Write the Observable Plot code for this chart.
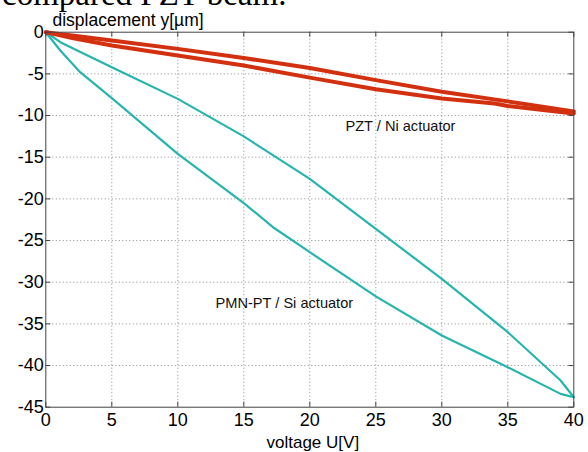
<!DOCTYPE html>
<html><head><meta charset="utf-8">
<script src="https://cdn.jsdelivr.net/npm/d3@7"></script>
<script src="https://cdn.jsdelivr.net/npm/@observablehq/plot@0.6"></script>
<style>
html,body{margin:0;padding:0;background:#fff;}
#chart{position:relative;width:588px;height:452px;overflow:hidden;}
</style>
</head><body><div id="chart"></div>
<script>
// ---- data ----
const xTicks = [0, 5, 10, 15, 20, 25, 30, 35, 40];
const yTicks = [0, -5, -10, -15, -20, -25, -30, -35, -40, -45];

// PZT / Ni actuator: two branches of the hysteresis loop
const pztUpperV = [0, 1, 2, 5, 10, 15, 20, 25, 30, 35, 40];
const pztUpperD = [0, -0.2, -0.4, -1.0, -2.0, -3.1, -4.3, -5.75, -7.15, -8.3, -9.5];
const pztLowerV = [0, 1, 2, 5, 10, 15, 20, 25, 30, 34, 35, 40];
const pztLowerD = [0, -0.35, -0.7, -1.6, -2.8, -4.0, -5.45, -6.85, -7.95, -8.55, -8.85, -9.75];

// PMN-PT / Si actuator: two branches of the hysteresis loop
const pmnUpperV = [0, 1.1, 5, 10, 15, 20, 25, 30, 35, 39, 40];
const pmnUpperD = [0, -1.2, -4.2, -8.0, -12.5, -17.6, -23.6, -29.6, -36.0, -41.8, -43.8];
const pmnLowerV = [0, 1.1, 2.6, 5, 10, 15, 17.3, 20, 25, 30, 35, 39, 40];
const pmnLowerD = [0, -2.2, -4.8, -7.9, -14.6, -20.5, -23.5, -26.4, -31.7, -36.4, -40.2, -43.4, -43.8];

const labelNames = ["PZT / Ni actuator", "PMN-PT / Si actuator"];
const labelV = [22.7, 12.86];
const labelD = [-11.24, -32.5];

const titleText = "compared PZT beam.";
const xLabel = "voltage U[V]";
const yLabel = "displacement y[\u00b5m]";

// ---- build tables ----
const toRows = (vs, ds) => vs.map((v, i) => ({v, d: ds[i]}));
const pztUpper = toRows(pztUpperV, pztUpperD);
const pztLower = toRows(pztLowerV, pztLowerD);
const pmnUpper = toRows(pmnUpperV, pmnUpperD);
const pmnLower = toRows(pmnLowerV, pmnLowerD);
const labels = labelNames.map((t, i) => ({t, v: labelV[i], d: labelD[i]}));

const W = 588, H = 452;
const mL = 45.3, mR = 14.7, mT = 31.7, mB = 45.3;
const frameW = W - mL - mR, frameH = H - mT - mB;
const tickLen = 5;
const red = "#d2300e", cyan = "#26b4ae";
const axisColor = "#444";
const gridStyle = {stroke: "#8a8a8a", strokeOpacity: 1, strokeWidth: 1, strokeDasharray: "1,2.5"};

const chart = Plot.plot({
  width: W, height: H,
  marginLeft: mL, marginRight: mR, marginTop: mT, marginBottom: mB,
  style: {fontFamily: "'Liberation Sans', Arial, sans-serif", fontSize: "18px", color: "#000", background: "#fff"},
  x: {domain: [0, 40]},
  y: {domain: [-45, 0]},
  marks: [
    Plot.ruleX(xTicks.slice(1, -1), {x: d => d, ...gridStyle}),
    Plot.ruleY(yTicks.slice(1, -1), {y: d => d, ...gridStyle}),
    Plot.line(pmnUpper, {x: "v", y: "d", stroke: cyan, strokeWidth: 2.2}),
    Plot.line(pmnLower, {x: "v", y: "d", stroke: cyan, strokeWidth: 2.2}),
    Plot.line(pztUpper, {x: "v", y: "d", stroke: red, strokeWidth: 4}),
    Plot.line(pztLower, {x: "v", y: "d", stroke: red, strokeWidth: 4}),
    Plot.text(labels, {x: "v", y: "d", text: "t", textAnchor: "start", lineAnchor: "middle", fontSize: 14.6, fill: "#111"}),
    Plot.tickX(xTicks, {x: d => d, insetTop: frameH - tickLen, stroke: axisColor}),
    Plot.tickX(xTicks, {x: d => d, insetBottom: frameH - tickLen, stroke: axisColor}),
    Plot.tickY(yTicks, {y: d => d, insetRight: frameW - tickLen, stroke: axisColor}),
    Plot.tickY(yTicks, {y: d => d, insetLeft: frameW - tickLen, stroke: axisColor}),
    Plot.frame({stroke: axisColor, strokeWidth: 1}),
    Plot.axisX({ticks: xTicks, tickSize: 0, tickPadding: 6, tickFormat: d => String(d), label: null, fontSize: 18}),
    Plot.axisY({ticks: yTicks, tickSize: 0, tickPadding: 2, tickFormat: d => String(d), label: null, fontSize: 18}),
    Plot.text([xLabel], {frameAnchor: "bottom", dx: 3, dy: 35.6, textAnchor: "middle", lineAnchor: "middle", fontSize: 17, fill: "#000"}),
    Plot.text([yLabel], {frameAnchor: "top-left", dx: 6.7, dy: -12.1, textAnchor: "start", lineAnchor: "middle", fontSize: 17.5, fill: "#000"})
  ]
});
document.getElementById("chart").appendChild(chart);

d3.select(chart).append("text")
  .attr("x", 2).attr("y", 4.5)
  .attr("text-anchor", "start")
  .attr("font-family", "'Liberation Serif', 'Times New Roman', serif")
  .attr("font-size", 33)
  .attr("fill", "#000")
  .text(titleText);
</script>
</body></html>
